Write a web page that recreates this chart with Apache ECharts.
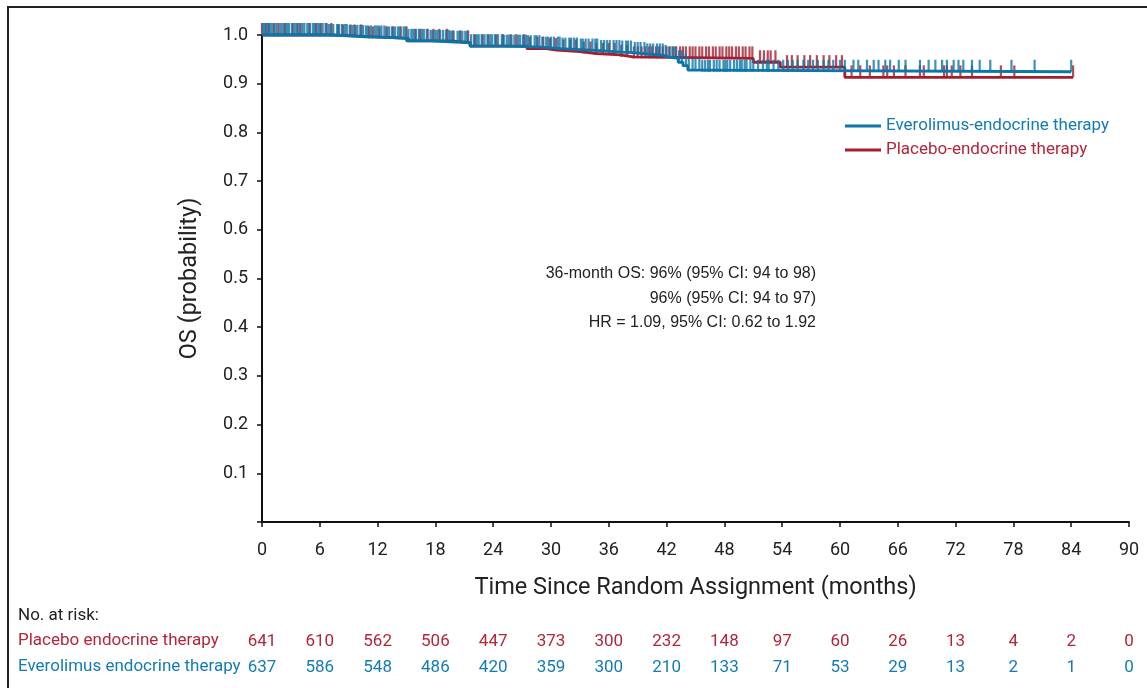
<!DOCTYPE html>
<html><head><meta charset="utf-8">
<script src="https://cdn.jsdelivr.net/npm/echarts@6/dist/echarts.min.js"></script>
<style>html,body{margin:0;padding:0;background:#fff}#c{width:1147px;height:688px}</style>
</head><body><div id="c"></div>
<script>
// ---- data ----
const riskTimes = [0,6,12,18,24,30,36,42,48,54,60,66,72,78,84,90];
const placeboRisk = [641,610,562,506,447,373,300,232,148,97,60,26,13,4,2,0];
const everoRisk   = [637,586,548,486,420,359,300,210,133,71,53,29,13,2,1,0];

// Kaplan-Meier steps: time (months) and survival from that time on
const everoTimes = [0, 6.9, 9.0, 10.7, 13.0, 15.0, 17.5, 19.5, 21.6, 25.0, 27.5, 28.9, 31.0, 33.0, 35.0, 37.2, 38.5, 40.0, 41.7, 42.2, 43.2, 43.7, 44.2, 45.6, 84.0];
const everoSurv  = [1.000, 0.998, 0.996, 0.995, 0.993, 0.988, 0.986, 0.984, 0.977, 0.976, 0.975, 0.972, 0.970, 0.968, 0.965, 0.964, 0.961, 0.958, 0.955, 0.952, 0.944, 0.937, 0.928, 0.9245, 0.9245];
const placeboTimes = [0, 7.5, 10.7, 15.2, 19.5, 21.6, 27.5, 29.5, 30.6, 33.0, 34.7, 37.2, 38.5, 51.0, 53.8, 60.5, 84.2];
const placeboSurv  = [1.000, 0.997, 0.993, 0.988, 0.985, 0.977, 0.972, 0.969, 0.966, 0.962, 0.959, 0.955, 0.952, 0.944, 0.934, 0.913, 0.913];

// censoring times (months)
const everoCensor = [0.1,0.3,0.6,0.8,1.0,1.3,1.5,1.9,2.1,2.3,2.6,2.8,3.1,3.4,3.6,3.9,4.2,4.4,4.7,5.0,5.3,5.5,5.8,6.0,6.3,6.6,6.9,7.1,7.4,7.8,8.0,8.3,8.6,8.8,9.1,9.4,9.7,9.9,10.2,10.5,10.8,11.0,11.3,11.7,11.9,12.1,12.4,12.7,13.0,13.2,13.5,13.8,14.1,14.3,14.7,14.9,15.2,15.5,15.7,16.0,16.3,16.6,16.8,17.1,17.5,17.7,18.0,18.2,18.5,18.8,19.1,19.4,19.6,19.9,20.3,20.5,20.8,21.1,21.3,21.7,22.0,22.3,22.5,22.8,23.1,23.4,23.7,23.9,24.2,24.5,24.9,25.1,25.4,25.6,25.9,26.2,26.6,26.8,27.1,27.4,27.6,27.9,28.3,28.5,28.8,29.1,29.5,29.7,30.0,30.3,30.7,30.9,31.2,31.5,31.9,32.1,32.4,32.7,33.1,33.3,33.6,33.9,34.3,34.6,34.8,35.2,35.5,35.8,36.1,36.5,36.8,37.1,37.4,37.8,38.0,38.3,38.7,39.0,39.3,39.7,40.0,40.3,40.6,41.0,41.3,41.6,41.9,42.3,42.6,42.9,43.3,43.6,44.0,44.3,44.7,45.0,45.4,45.7,46.0,46.3,46.5,46.9,47.2,47.5,47.9,48.1,48.3,48.6,49.0,49.3,49.6,49.8,50.1,50.3,50.7,51.0,51.5,52.0,52.4,52.6,53.1,53.6,54.1,54.6,55.1,55.6,56.2,56.7,57.2,57.7,58.3,58.8,59.3,60.0,60.5,61.4,61.9,62.8,63.5,64.0,64.7,65.2,66.1,66.8,68.3,69.2,69.9,70.6,71.1,71.8,72.3,72.8,73.7,74.5,75.6,77.8,80.2,84.0];
const placeboCensor = [0.0,0.4,0.7,1.2,1.7,2.4,3.2,3.7,4.0,4.9,5.6,6.1,6.7,7.2,7.9,8.4,9.2,9.6,10.3,11.1,11.5,12.2,12.9,13.6,14.4,15.0,15.9,16.4,17.2,17.8,18.4,19.2,19.8,20.6,21.4,22.1,22.9,23.5,24.3,25.0,25.8,26.4,27.2,27.8,28.6,29.2,29.9,30.5,31.3,32.0,32.6,33.4,34.1,34.7,35.4,36.0,36.6,37.3,37.9,38.6,39.0,39.4,39.8,40.2,40.5,40.9,41.2,41.6,42.0,42.3,42.7,43.0,43.4,43.7,44.0,44.4,44.7,45.0,45.4,45.7,46.1,46.4,46.8,47.1,47.5,47.8,48.2,48.5,48.8,49.2,49.5,49.9,50.2,50.6,50.9,51.7,52.1,52.5,52.8,53.3,54.5,55.0,55.6,56.3,56.9,57.6,58.3,58.9,59.6,60.2,61.2,62.1,63.1,64.5,64.9,65.6,66.8,68.3,68.7,70.8,71.1,71.6,72.5,73.7,76.7,78.1,84.2];

const legendNames = ['Everolimus-endocrine therapy','Placebo-endocrine therapy'];
const annotation = ['36-month OS: 96% (95% CI: 94 to 98)','96% (95% CI: 94 to 97)','HR = 1.09, 95% CI: 0.62 to 1.92'];

// ---- style ----
const BLUE = '#0b76a8', RED = '#a51e2f';
const BLUE_T = '#127cb3', RED_T = '#b3263a';
const FONT = 'Roboto, "Liberation Sans", sans-serif';
const FONT2 = '"Liberation Sans", Arial, sans-serif';

function pairs(t, s){ return t.map((x,i)=>[x, s[i]]); }
function survAt(t, s, x){ let v = s[0]; for (let i=0;i<t.length;i++){ if (t[i] <= x) v = s[i]; } return v; }
function marks(ct, t, s){ return ct.map(x => [x, survAt(t, s, x)]); }

const chart = echarts.init(document.getElementById('c'), null, {renderer:'canvas'});
const axisCommon = {min:0, max:90, interval:6, type:'value'};
chart.setOption({
  animation:false,
  backgroundColor:'#fff',
  grid:{left:262, right:18, top:35, bottom:166, containLabel:false},
  xAxis:[
    Object.assign({}, axisCommon, {
      position:'bottom',
      name:'Time Since Random Assignment (months)', nameLocation:'middle', nameGap:54,
      nameTextStyle:{fontFamily:FONT, fontSize:23.5, color:'#222'},
      axisLine:{show:true, onZero:false, lineStyle:{color:'#111', width:2}},
      axisTick:{show:true, length:5, inside:false, lineStyle:{color:'#111', width:1.5}},
      axisLabel:{fontFamily:FONT, fontSize:18, color:'#222', margin:19},
      splitLine:{show:false}
    }),
    Object.assign({}, axisCommon, {
      position:'bottom', offset:103,
      axisLine:{show:false}, axisTick:{show:false}, splitLine:{show:false},
      axisLabel:{fontFamily:FONT, fontSize:17, color:RED_T, margin:8, formatter:v=>String(placeboRisk[riskTimes.indexOf(v)])}
    }),
    Object.assign({}, axisCommon, {
      position:'bottom', offset:129,
      axisLine:{show:false}, axisTick:{show:false}, splitLine:{show:false},
      axisLabel:{fontFamily:FONT, fontSize:17, color:BLUE_T, margin:8, formatter:v=>String(everoRisk[riskTimes.indexOf(v)])}
    })
  ],
  yAxis:{
    type:'value', min:0, max:1, interval:0.1,
    name:'OS (probability)', nameLocation:'middle', nameGap:60,
    nameTextStyle:{fontFamily:FONT, fontSize:23.5, color:'#222'},
    axisLine:{show:true, onZero:false, lineStyle:{color:'#111', width:2}},
    axisTick:{show:true, length:5, lineStyle:{color:'#111', width:1.5}},
    axisLabel:{fontFamily:FONT, fontSize:18, color:'#222', margin:14, formatter:v=> v===0 ? '' : v.toFixed(1)},
    splitLine:{show:false}
  },
  legend:{
    orient:'vertical', left:845, top:117, itemWidth:36, itemHeight:3, itemGap:6, icon:'rect',
    selectedMode:false, padding:0,
    textStyle:{fontFamily:FONT, fontSize:17, lineHeight:18},
    data:[{name:legendNames[0], textStyle:{color:BLUE_T}},{name:legendNames[1], textStyle:{color:RED_T}}]
  },
  series:[
    {name:legendNames[1], type:'line', step:'end', showSymbol:false, clip:false, color:RED,
     lineStyle:{color:RED, width:2.8}, data:pairs(placeboTimes, placeboSurv), z:2},
    {name:'placeboCensor', type:'scatter', symbol:'rect', symbolSize:[2.2,12], symbolOffset:[0,-6], clip:false,
     itemStyle:{color:RED}, data:marks(placeboCensor, placeboTimes, placeboSurv), z:3},
    {name:legendNames[0], type:'line', step:'end', showSymbol:false, clip:false, color:BLUE,
     lineStyle:{color:BLUE, width:2.8}, data:pairs(everoTimes, everoSurv), z:4},
    {name:'everoCensor', type:'scatter', symbol:'rect', symbolSize:[2.2,12], symbolOffset:[0,-6], clip:false,
     itemStyle:{color:BLUE}, data:marks(everoCensor, everoTimes, everoSurv), z:5}
  ],
  graphic:[
    {type:'rect', shape:{x:8, y:7, width:1160, height:700}, style:{fill:'none', stroke:'#222', lineWidth:2}, silent:true},
    {type:'text', x:816, y:274, style:{text:annotation[0], font:'16px '+FONT2, fill:'#222', textAlign:'right', textVerticalAlign:'middle'}},
    {type:'text', x:816, y:299, style:{text:annotation[1], font:'16px '+FONT2, fill:'#222', textAlign:'right', textVerticalAlign:'middle'}},
    {type:'text', x:816, y:323, style:{text:annotation[2], font:'16px '+FONT2, fill:'#222', textAlign:'right', textVerticalAlign:'middle'}},
    {type:'text', x:18, y:616, style:{text:'No. at risk:', font:'17px '+FONT, fill:'#222', textVerticalAlign:'middle'}},
    {type:'text', x:18, y:641, style:{text:'Placebo endocrine therapy', font:'17px '+FONT, fill:RED_T, textVerticalAlign:'middle'}},
    {type:'text', x:18, y:667, style:{text:'Everolimus endocrine therapy', font:'17px '+FONT, fill:BLUE_T, textVerticalAlign:'middle'}}
  ]
});
</script></body></html>
